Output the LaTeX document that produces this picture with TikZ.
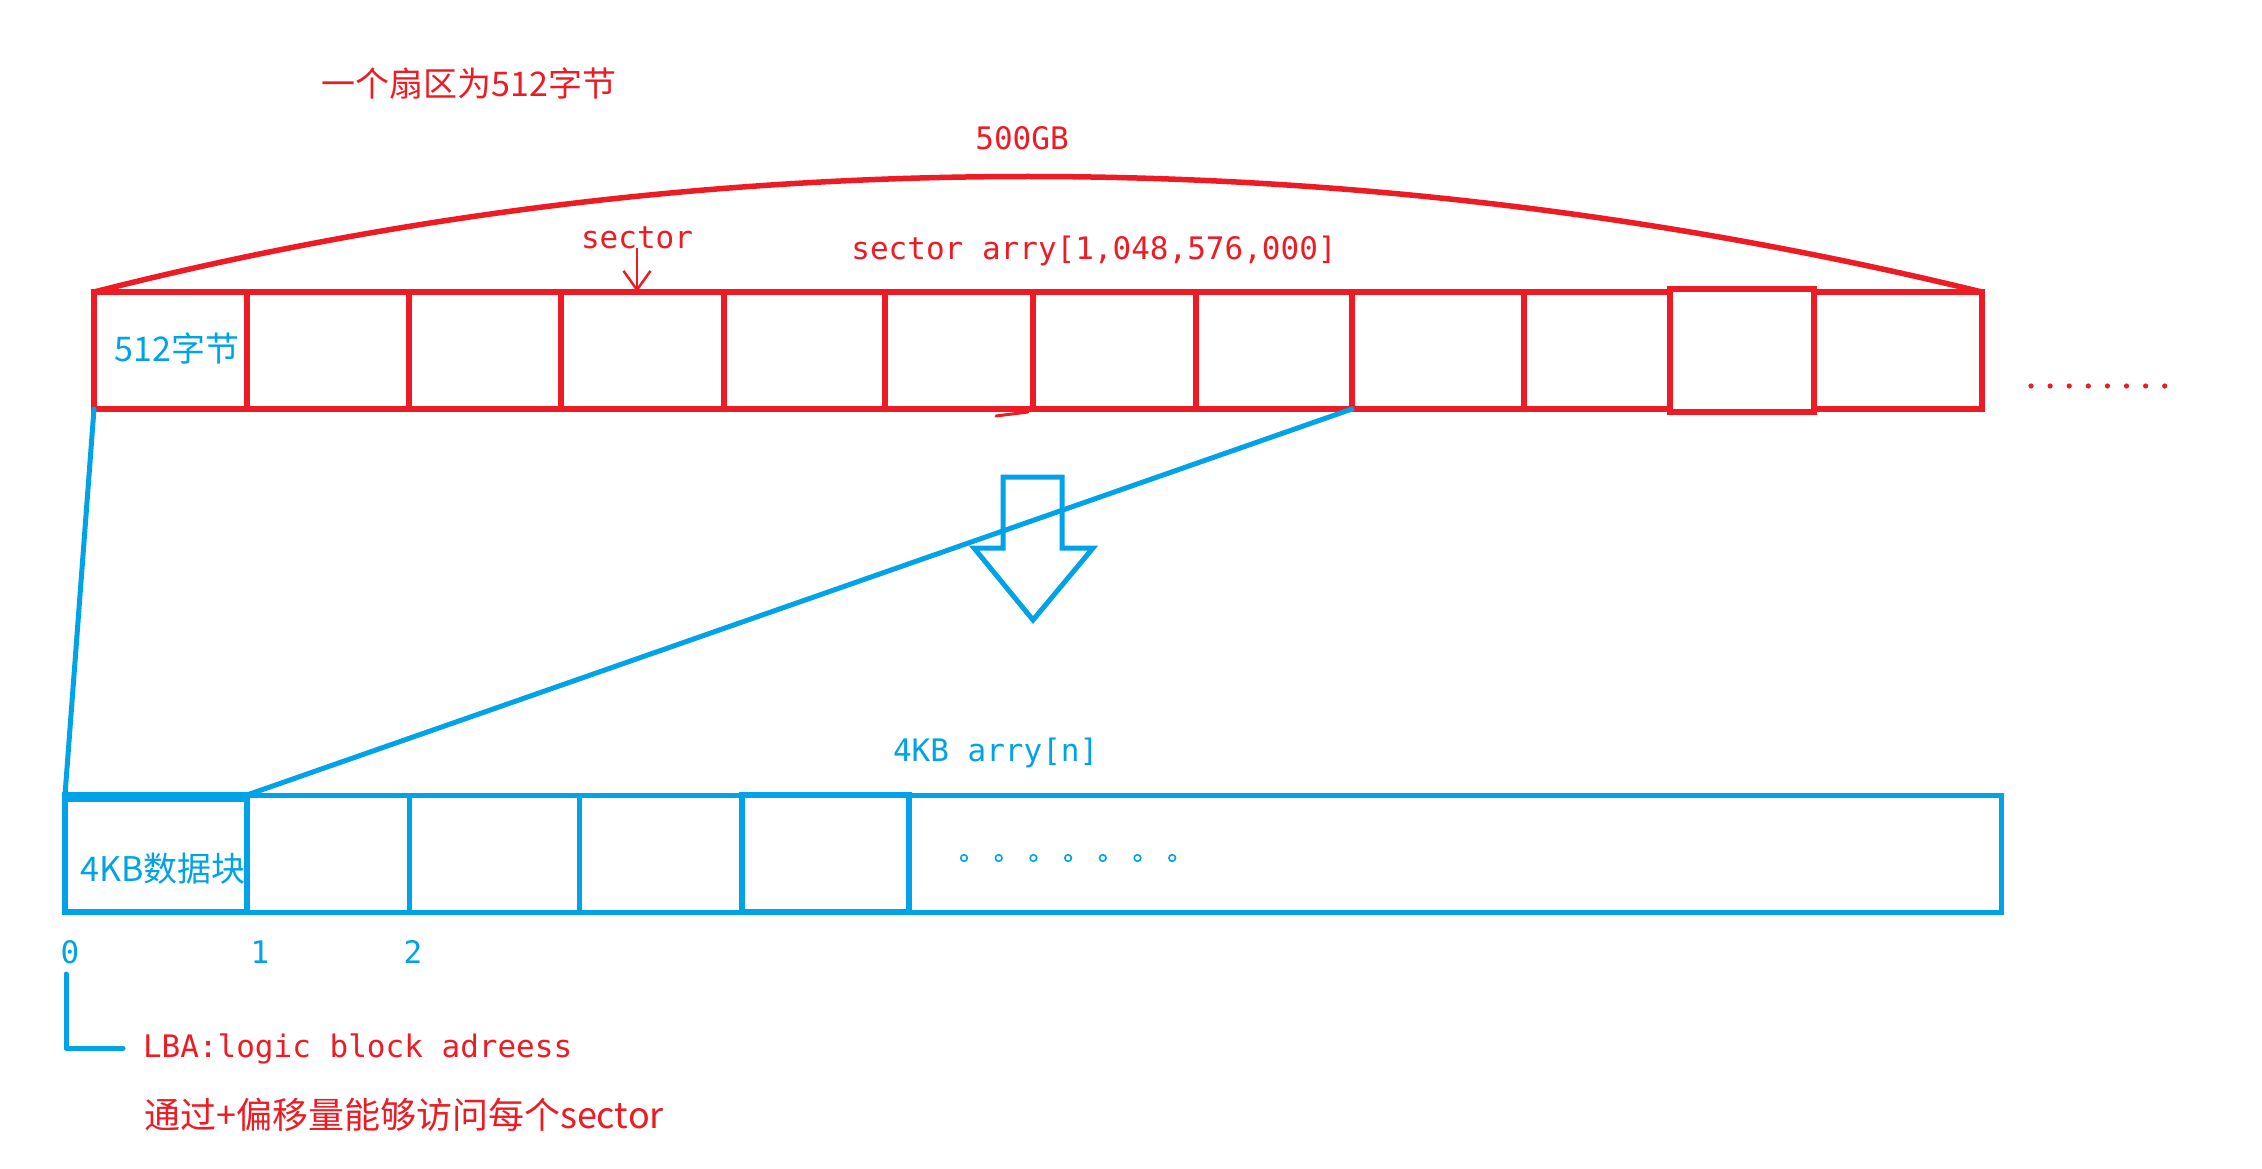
\documentclass[tikz,border=0pt]{standalone}
\usepackage{fontspec}
\newfontfamily\cjk{Noto Sans CJK SC}
\newfontfamily\mono{DejaVu Sans Mono}
\usetikzlibrary{arrows.meta,calc}
\definecolor{rd}{HTML}{ED1C24}
\definecolor{bl}{HTML}{00A2E8}
\begin{document}
\begin{tikzpicture}[x=1pt,y=-1pt,
  rcell/.style={draw=rd, line width=5.5pt, inner sep=0pt, outer sep=0pt, anchor=north west, minimum height=117pt},
  rthick/.style={rcell, line width=6pt},
  bcell/.style={draw=bl, line width=5pt, inner sep=0pt, outer sep=0pt, anchor=north west, minimum height=117pt},
  bthick/.style={bcell, line width=6pt},
  rline/.style={draw=rd, line width=5.5pt, line cap=round, line join=round},
  bline/.style={draw=bl, line width=5pt, line cap=round, line join=round},
  monot/.style={font=\mono\fontsize{31}{36}\selectfont, inner sep=0pt, outer sep=0pt},
  cjkt/.style={font=\cjk\fontsize{34}{40}\selectfont, inner sep=0pt, outer sep=0pt}]
\useasboundingbox (0,0) rectangle (2262,1169);
\fill[white] (0,0) rectangle (2262,1169);

% red sector strip
\foreach \i/\a/\b in {2/247/409,4/561/724,6/885/1033,8/1196/1352,10/1524/1670,12/1814/1982}
  \node[rcell, minimum width={(\b-\a)*1pt}] (r\i) at (\a,292) {};
\foreach \i/\a/\b in {1/94/247,3/409/561,5/724/885,7/1033/1196,9/1352/1524}
  \node[rthick, minimum width={(\b-\a)*1pt}] (r\i) at (\a,292) {};
\node[rthick, minimum width=144pt, minimum height=123pt] (r11) at (1670,289) {};

% stray mark under strip
\draw[rline, line width=3pt] (996,416) -- (1028,412);

% 500GB arc
\draw[rline] (r1.north west) .. controls (700,138) and (1350,138) .. (r12.north east);

% red dots
\foreach \k in {0,...,7}
  \fill[rd] ({2031+\k*19.1},386) circle (2.6);

% red texts
\node[cjkt, text=rd] (title) at (469,84) {一个扇区为512字节};
\node[monot, text=rd, anchor=base] (gb) at (1022,150) {500GB};
\node[monot, text=rd, anchor=base] (sec) at (637,248) {sector};
\node[monot, text=rd, anchor=base] (arr) at (1094,259) {sector arry[1,048,576,000]};
\draw[rd, line width=2.5pt, -{Straight Barb[length=19pt,width=27pt,line width=2.5pt]}] (sec.south) -- (sec.south |- r4.north);
\node[cjkt, text=bl] (b512) at (177,348) {512字节};

% blue block strip
\foreach \i/\a/\b in {2/247/409,3/409/579,4/579/742,6/909/2001}
  \node[bcell, minimum width={(\b-\a)*1pt}] (b\i) at (\a,795) {};
\foreach \i/\a/\b in {1/65/247,5/742/909}
  \node[bthick, minimum width={(\b-\a)*1pt}] (b\i) at (\a,795) {};
\draw[bl, line width=6pt] ([yshift=-4pt]b1.north west) -- ([yshift=-4pt]b1.north east);

% connectors between strips
\draw[bline] (r1.south west) -- (b1.north west);
\draw[bline] (r9.south west) -- (b1.north east);

% hollow arrow
\draw[bline, line join=miter] (1003,477) -- (1062,477) -- (1062,548) -- (1093,548) -- (1033,620) -- (974,548) -- (1003,548) -- cycle;

% blue texts
\node[monot, text=bl, anchor=base west] (karr) at (893,761) {4KB arry[n]};
\node[cjkt, text=bl] (kblk) at (163,869) {4KB数据块};
\foreach \k in {0,...,6}
  \draw[bl, line width=1.6pt] ({964+\k*34.7},858) circle (3.3);
\node[monot, text=bl, anchor=base] (n0) at (70,963) {0};
\node[monot, text=bl, anchor=base] (n1) at (260,963) {1};
\node[monot, text=bl, anchor=base] (n2) at (413,963) {2};

% LBA
\node[monot, text=rd, anchor=base west] (lba) at (143,1057) {LBA:logic block adreess};
\coordinate (brk) at (66,974);
\draw[bline] (brk) |- ([xshift=-20pt]lba.west);
\node[cjkt, text=rd, font=\cjk\fontsize{36}{42}\selectfont] (note) at (404,1115) {通过+偏移量能够访问每个sector};
\end{tikzpicture}
\end{document}
